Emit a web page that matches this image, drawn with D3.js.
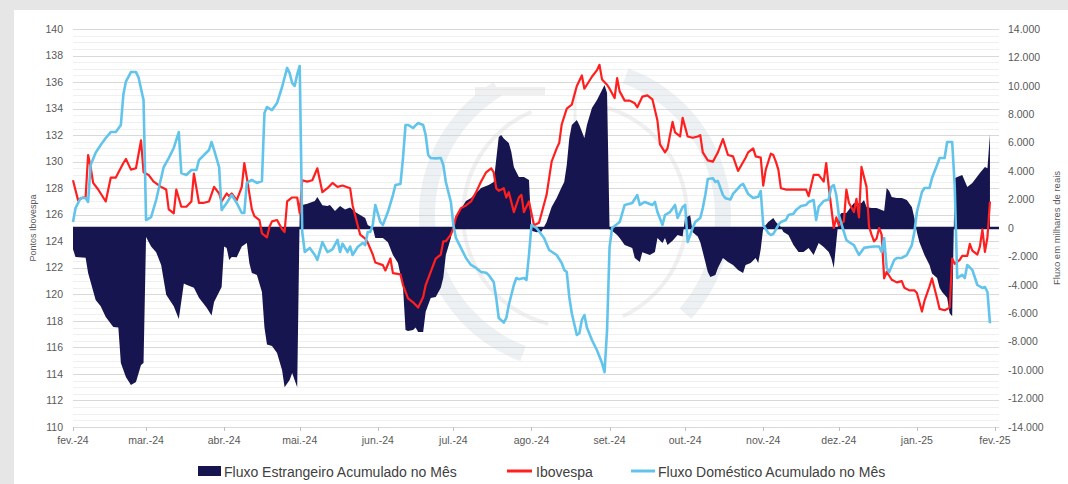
<!DOCTYPE html>
<html><head><meta charset="utf-8">
<script src="https://cdn.jsdelivr.net/npm/d3@7"></script>
<style>body{margin:0;background:#e6e6e6;overflow:hidden}svg{display:block}</style>
</head><body><svg id="c" width="1068" height="484"></svg>
<script>
const monthTicks = ["2024-02-01","2024-03-01","2024-04-01","2024-05-01","2024-06-01","2024-07-01","2024-08-01","2024-09-01","2024-10-01","2024-11-01","2024-12-01","2025-01-01","2025-02-01"];
const monthLabels = ["fev.-24","mar.-24","abr.-24","mai.-24","jun.-24","jul.-24","ago.-24","set.-24","out.-24","nov.-24","dez.-24","jan.-25","fev.-25"];
const leftTicks = [110,112,114,116,118,120,122,124,126,128,130,132,134,136,138,140];
const rightTicks = [-14000,-12000,-10000,-8000,-6000,-4000,-2000,0,2000,4000,6000,8000,10000,12000,14000];
const seriesNames = ["Fluxo Estrangeiro Acumulado no Mês","Ibovespa","Fluxo Doméstico Acumulado no Mês"];
const leftTitle = "Pontos Ibovespa";
const rightTitle = "Fluxo em milhares de reais";

const foreignFlow = [
["2024-02-01",-1500],["2024-02-02",-2040],["2024-02-06",-2100],["2024-02-07",-3170],["2024-02-10",-5070],["2024-02-12",-5500],["2024-02-14",-6260],["2024-02-17",-6970],["2024-02-19",-7000],["2024-02-20",-9500],["2024-02-22",-10480],["2024-02-24",-11050],["2024-02-26",-10830],["2024-02-28",-9640],["2024-02-29",-9500],
["2024-03-01",-630],["2024-03-03",-1300],["2024-03-05",-1700],["2024-03-07",-2600],["2024-03-09",-4700],["2024-03-12",-5500],["2024-03-14",-6400],["2024-03-16",-3900],["2024-03-17",-4000],["2024-03-20",-4200],["2024-03-22",-4900],["2024-03-25",-5600],["2024-03-27",-6150],["2024-03-28",-5200],["2024-03-31",-4150],
["2024-04-01",-1300],["2024-04-02",-1400],["2024-04-03",-2250],["2024-04-04",-2040],["2024-04-06",-2050],["2024-04-08",-1300],["2024-04-10",-1050],["2024-04-11",-2460],["2024-04-12",-3170],["2024-04-14",-3300],["2024-04-16",-4500],["2024-04-17",-7000],["2024-04-18",-8200],["2024-04-20",-8300],["2024-04-22",-8800],["2024-04-24",-10000],["2024-04-25",-11200],["2024-04-27",-10700],["2024-04-28",-10200],["2024-04-30",-11200],
["2024-05-01",1200],["2024-05-02",1620],["2024-05-04",1700],["2024-05-07",1900],["2024-05-08",2180],["2024-05-10",1600],["2024-05-12",1550],["2024-05-13",1620],["2024-05-15",1200],["2024-05-17",1550],["2024-05-19",1300],["2024-05-21",1450],["2024-05-23",1125],["2024-05-25",915],["2024-05-27",700],["2024-05-28",210],["2024-05-30",0],["2024-05-31",-700],
["2024-06-03",-700],["2024-06-05",-1000],["2024-06-07",-1900],["2024-06-09",-2460],["2024-06-11",-4150],["2024-06-12",-7175],["2024-06-13",-7250],["2024-06-15",-7175],["2024-06-16",-7000],["2024-06-17",-7320],["2024-06-19",-7320],["2024-06-20",-5900],["2024-06-22",-4925],["2024-06-24",-4850],["2024-06-26",-4200],["2024-06-27",-3500],["2024-06-28",-1900],["2024-06-30",-700],
["2024-07-01",200],["2024-07-03",1125],["2024-07-05",1620],["2024-07-06",1900],["2024-07-08",2110],["2024-07-10",2460],["2024-07-12",2810],["2024-07-15",3025],["2024-07-17",3235],["2024-07-19",6400],["2024-07-20",6540],["2024-07-21",6300],["2024-07-23",5980],["2024-07-24",5350],["2024-07-25",4300],["2024-07-27",3590],["2024-07-29",3590],["2024-07-31",3380],
["2024-08-01",-200],["2024-08-03",-300],["2024-08-05",-250],["2024-08-07",420],["2024-08-09",1480],["2024-08-10",1800],["2024-08-11",2110],["2024-08-13",2885],["2024-08-14",3235],["2024-08-15",4430],["2024-08-16",6300],["2024-08-17",7245],["2024-08-19",7600],["2024-08-20",7245],["2024-08-22",6330],["2024-08-23",7245],["2024-08-25",8440],["2024-08-27",9000],["2024-08-29",9700],["2024-08-30",10060],["2024-08-31",9500],
["2024-09-01",-100],["2024-09-02",-200],["2024-09-04",-500],["2024-09-05",-700],["2024-09-07",-1200],["2024-09-10",-1400],["2024-09-11",-2110],["2024-09-13",-2400],["2024-09-14",-1700],["2024-09-17",-1900],["2024-09-19",-1690],["2024-09-20",-700],["2024-09-22",-1055],["2024-09-23",-700],["2024-09-24",-1200],["2024-09-26",-900],["2024-09-28",-490],["2024-09-30",-600],
["2024-10-01",700],["2024-10-03",900],["2024-10-04",-300],["2024-10-06",-600],["2024-10-07",-1000],["2024-10-08",-1690],["2024-10-10",-3100],["2024-10-11",-3450],["2024-10-13",-3300],["2024-10-14",-2810],["2024-10-16",-2110],["2024-10-18",-2390],["2024-10-20",-2600],["2024-10-22",-2950],["2024-10-24",-3170],["2024-10-25",-2600],["2024-10-27",-2460],["2024-10-29",-2110],["2024-10-30",-2460],["2024-10-31",-1500],
["2024-11-01",0],["2024-11-03",420],["2024-11-05",700],["2024-11-06",420],["2024-11-08",70],["2024-11-09",-280],["2024-11-11",-490],["2024-11-13",-1200],["2024-11-15",-1690],["2024-11-17",-1690],["2024-11-19",-1400],["2024-11-21",-1900],["2024-11-23",-1055],["2024-11-25",-1340],["2024-11-27",-1690],["2024-11-28",-2110],["2024-11-29",-2810],["2024-11-30",-1000],
["2024-12-01",800],["2024-12-02",1055],["2024-12-04",1055],["2024-12-07",1760],["2024-12-08",1700],["2024-12-10",1760],["2024-12-11",1970],["2024-12-12",1480],["2024-12-14",1400],["2024-12-16",1400],["2024-12-18",1270],["2024-12-19",1200],["2024-12-20",2810],["2024-12-21",2600],["2024-12-22",2180],["2024-12-24",2110],["2024-12-26",2110],["2024-12-28",1970],["2024-12-30",1480],["2024-12-31",700],
["2025-01-01",-300],["2025-01-02",-1000],["2025-01-04",-1900],["2025-01-06",-2600],["2025-01-07",-3200],["2025-01-09",-3520],["2025-01-10",-4200],["2025-01-11",-4500],["2025-01-13",-4900],["2025-01-14",-6000],["2025-01-15",-6200],["2025-01-16",3500],["2025-01-17",3590],["2025-01-19",3730],["2025-01-21",2885],["2025-01-23",3165],["2025-01-26",3870],["2025-01-28",4290],["2025-01-29",4200],["2025-01-30",6600]
];

const ibovespa = [
["2024-02-01",128.6],["2024-02-03",127.1],["2024-02-05",127.3],["2024-02-06",127.3],["2024-02-07",130.5],["2024-02-08",129.6],["2024-02-09",128.4],["2024-02-11",127.9],["2024-02-14",127.0],["2024-02-16",128.8],["2024-02-18",128.8],["2024-02-21",129.9],["2024-02-22",130.2],["2024-02-24",129.4],["2024-02-26",129.5],["2024-02-28",131.6],["2024-02-29",129.2],
["2024-03-02",129.0],["2024-03-04",128.5],["2024-03-07",128.1],["2024-03-08",128.0],["2024-03-09",127.9],["2024-03-10",126.4],["2024-03-12",126.1],["2024-03-13",127.9],["2024-03-15",126.6],["2024-03-17",126.6],["2024-03-19",127.0],["2024-03-20",129.1],["2024-03-22",126.9],["2024-03-24",126.9],["2024-03-26",127.0],["2024-03-28",128.1],["2024-03-30",127.6],["2024-03-31",127.0],
["2024-04-02",127.6],["2024-04-03",127.4],["2024-04-04",127.6],["2024-04-06",127.1],["2024-04-08",128.1],["2024-04-09",129.9],["2024-04-10",128.8],["2024-04-12",126.4],["2024-04-13",125.9],["2024-04-15",125.6],["2024-04-16",124.6],["2024-04-18",124.3],["2024-04-19",125.1],["2024-04-20",125.5],["2024-04-22",125.6],["2024-04-24",124.9],["2024-04-25",124.7],["2024-04-26",127.0],["2024-04-28",127.3],["2024-04-30",127.3],
["2024-05-01",126.1],["2024-05-02",128.6],["2024-05-04",128.5],["2024-05-06",128.6],["2024-05-08",129.5],["2024-05-09",128.6],["2024-05-10",127.7],["2024-05-12",128.0],["2024-05-14",128.4],["2024-05-16",128.1],["2024-05-18",128.2],["2024-05-21",128.0],["2024-05-22",126.7],["2024-05-24",125.2],["2024-05-25",124.5],["2024-05-27",124.2],["2024-05-28",123.9],["2024-05-30",123.0],["2024-05-31",122.4],
["2024-06-03",122.2],["2024-06-04",121.8],["2024-06-06",122.7],["2024-06-07",121.6],["2024-06-10",121.5],["2024-06-11",120.7],["2024-06-13",119.7],["2024-06-15",119.4],["2024-06-17",119.0],["2024-06-19",119.8],["2024-06-20",120.7],["2024-06-22",121.7],["2024-06-24",122.7],["2024-06-26",123.0],["2024-06-27",124.0],["2024-06-28",124.0],["2024-06-30",124.5],
["2024-07-01",125.0],["2024-07-02",125.8],["2024-07-04",126.5],["2024-07-06",126.7],["2024-07-08",127.0],["2024-07-10",127.7],["2024-07-12",128.5],["2024-07-14",129.2],["2024-07-16",129.5],["2024-07-17",129.2],["2024-07-18",128.0],["2024-07-19",127.8],["2024-07-21",128.0],["2024-07-22",127.3],["2024-07-23",127.7],["2024-07-25",126.2],["2024-07-27",127.3],["2024-07-28",127.5],["2024-07-29",126.2],["2024-07-31",127.0],
["2024-08-02",125.2],["2024-08-04",125.4],["2024-08-07",127.5],["2024-08-09",130.0],["2024-08-11",131.0],["2024-08-12",131.4],["2024-08-13",132.8],["2024-08-15",134.0],["2024-08-17",134.3],["2024-08-18",135.0],["2024-08-19",135.7],["2024-08-21",136.5],["2024-08-22",135.5],["2024-08-23",135.8],["2024-08-25",136.4],["2024-08-27",136.9],["2024-08-28",137.3],["2024-08-29",136.2],["2024-08-31",135.8],
["2024-09-01",135.5],["2024-09-03",134.8],["2024-09-04",136.3],["2024-09-05",135.3],["2024-09-07",134.6],["2024-09-09",134.6],["2024-09-11",134.4],["2024-09-12",134.1],["2024-09-14",134.9],["2024-09-16",135.0],["2024-09-18",134.7],["2024-09-20",133.1],["2024-09-21",131.3],["2024-09-23",130.7],["2024-09-24",131.0],["2024-09-26",133.0],["2024-09-27",132.2],["2024-09-29",131.9],["2024-09-30",133.3],
["2024-10-02",131.9],["2024-10-04",131.8],["2024-10-06",131.9],["2024-10-07",132.0],["2024-10-08",130.7],["2024-10-10",130.1],["2024-10-12",130.0],["2024-10-14",130.7],["2024-10-16",131.7],["2024-10-18",130.5],["2024-10-20",130.4],["2024-10-22",129.3],["2024-10-25",130.3],["2024-10-26",130.7],["2024-10-28",131.0],["2024-10-29",130.4],["2024-10-31",130.3],
["2024-11-01",128.2],["2024-11-02",129.4],["2024-11-04",130.6],["2024-11-05",130.5],["2024-11-06",130.0],["2024-11-07",129.4],["2024-11-08",128.0],["2024-11-10",127.9],["2024-11-13",127.9],["2024-11-15",127.9],["2024-11-18",127.9],["2024-11-19",127.4],["2024-11-21",129.0],["2024-11-23",129.0],["2024-11-25",128.5],["2024-11-26",129.9],["2024-11-27",128.1],["2024-11-29",125.0],["2024-11-30",125.8],
["2024-12-01",125.2],["2024-12-03",125.5],["2024-12-04",127.9],["2024-12-05",126.9],["2024-12-07",126.2],["2024-12-08",127.2],["2024-12-09",125.8],["2024-12-10",129.6],["2024-12-12",128.1],["2024-12-13",125.1],["2024-12-14",124.5],["2024-12-15",124.0],["2024-12-16",124.2],["2024-12-17",125.0],["2024-12-18",124.5],["2024-12-19",121.2],["2024-12-20",121.7],["2024-12-22",121.1],["2024-12-24",120.9],["2024-12-26",121.0],["2024-12-27",120.5],["2024-12-29",120.3],["2024-12-31",120.3],
["2025-01-01",120.1],["2025-01-03",118.7],["2025-01-04",119.5],["2025-01-06",120.6],["2025-01-07",121.2],["2025-01-09",119.7],["2025-01-10",118.9],["2025-01-12",118.8],["2025-01-13",118.9],["2025-01-14",119.0],["2025-01-15",122.7],["2025-01-16",122.3],["2025-01-18",122.6],["2025-01-19",122.9],["2025-01-21",122.9],["2025-01-22",123.8],["2025-01-23",123.3],["2025-01-25",123.0],["2025-01-26",123.6],["2025-01-27",124.9],["2025-01-28",123.2],["2025-01-29",124.3],["2025-01-30",127.0]
];

const domesticFlow = [
["2024-02-01",420],["2024-02-02",1400],["2024-02-04",2110],["2024-02-06",2110],["2024-02-07",1830],["2024-02-08",4430],["2024-02-10",5300],["2024-02-12",5840],["2024-02-14",6330],["2024-02-16",6750],["2024-02-18",6750],["2024-02-20",7250],["2024-02-21",9400],["2024-02-22",10300],["2024-02-24",10970],["2024-02-26",10970],["2024-02-27",10600],["2024-02-28",9800],["2024-02-29",9000],
["2024-03-01",560],["2024-03-03",770],["2024-03-05",1970],["2024-03-08",4290],["2024-03-10",4920],["2024-03-12",5630],["2024-03-14",6750],["2024-03-15",3870],["2024-03-17",3730],["2024-03-19",4080],["2024-03-21",4080],["2024-03-22",4780],["2024-03-24",5135],["2024-03-26",5490],["2024-03-27",6050],["2024-03-28",5490],["2024-03-30",4290],["2024-03-31",1270],
["2024-04-02",1760],["2024-04-04",2320],["2024-04-06",1760],["2024-04-08",1055],["2024-04-09",1055],["2024-04-10",3170],["2024-04-12",3380],["2024-04-14",3170],["2024-04-16",3300],["2024-04-17",8090],["2024-04-18",8510],["2024-04-20",8300],["2024-04-22",8790],["2024-04-24",9920],["2024-04-26",11260],["2024-04-27",10900],["2024-04-28",10200],["2024-04-29",10000],["2024-04-30",10800],
["2024-05-01",11400],["2024-05-02",-280],["2024-05-03",-1690],["2024-05-05",-1400],["2024-05-07",-1900],["2024-05-08",-2250],["2024-05-10",-985],["2024-05-12",-1690],["2024-05-14",-1500],["2024-05-16",-840],["2024-05-17",-1690],["2024-05-18",-1100],["2024-05-20",-1690],["2024-05-21",-1300],["2024-05-22",-1900],["2024-05-24",-1340],["2024-05-26",-1055],["2024-05-27",-1200],["2024-05-28",-280],["2024-05-29",-280],["2024-05-30",210],["2024-05-31",1620],
["2024-06-02",420],["2024-06-03",210],["2024-06-05",1125],["2024-06-07",2320],["2024-06-08",3025],["2024-06-10",3100],["2024-06-11",4920],["2024-06-12",7250],["2024-06-13",7250],["2024-06-15",7035],["2024-06-17",7390],["2024-06-19",7250],["2024-06-20",6540],["2024-06-21",5135],["2024-06-22",4920],["2024-06-24",4900],["2024-06-26",4920],["2024-06-27",4430],["2024-06-28",3240],["2024-06-30",1830],
["2024-07-01",210],["2024-07-02",-700],["2024-07-04",-1400],["2024-07-06",-2110],["2024-07-08",-2600],["2024-07-10",-2810],["2024-07-12",-3100],["2024-07-14",-3150],["2024-07-15",-3300],["2024-07-17",-3800],["2024-07-18",-4920],["2024-07-19",-6330],["2024-07-21",-6650],["2024-07-22",-6330],["2024-07-23",-5420],["2024-07-25",-4010],["2024-07-26",-3520],["2024-07-27",-3600],["2024-07-29",-3520],["2024-07-30",-3660],["2024-07-31",-1900],
["2024-08-01",210],["2024-08-03",0],["2024-08-06",-700],["2024-08-08",-1550],["2024-08-11",-1900],["2024-08-13",-2460],["2024-08-14",-2950],["2024-08-15",-3100],["2024-08-16",-4850],["2024-08-17",-6000],["2024-08-19",-7530],["2024-08-20",-7400],["2024-08-21",-6470],["2024-08-22",-6120],["2024-08-23",-7000],["2024-08-25",-7880],["2024-08-27",-8600],["2024-08-29",-9500],["2024-08-30",-10150],["2024-08-31",-7180],
["2024-09-01",-1340],["2024-09-02",0],["2024-09-05",420],["2024-09-07",1620],["2024-09-10",1760],["2024-09-12",2320],["2024-09-13",1620],["2024-09-15",1830],["2024-09-18",1620],["2024-09-19",1830],["2024-09-20",1125],["2024-09-22",210],["2024-09-23",915],["2024-09-25",1125],["2024-09-27",1620],["2024-09-28",700],["2024-09-30",1480],
["2024-10-01",1620],["2024-10-02",-985],["2024-10-04",0],["2024-10-05",420],["2024-10-07",700],["2024-10-08",1400],["2024-10-09",2320],["2024-10-10",3450],["2024-10-12",3500],["2024-10-13",3240],["2024-10-14",3300],["2024-10-16",2320],["2024-10-17",2100],["2024-10-19",2000],["2024-10-20",2400],["2024-10-21",2600],["2024-10-23",3000],["2024-10-24",3100],["2024-10-26",2400],["2024-10-28",2110],["2024-10-30",2200],["2024-10-31",2600],
["2024-11-01",210],["2024-11-03",-350],["2024-11-04",-490],["2024-11-05",-420],["2024-11-07",210],["2024-11-08",420],["2024-11-10",560],["2024-11-11",915],["2024-11-13",1000],["2024-11-14",1270],["2024-11-16",1550],["2024-11-18",1620],["2024-11-19",1830],["2024-11-21",1970],["2024-11-22",560],["2024-11-23",1480],["2024-11-25",1900],["2024-11-27",2000],["2024-11-28",2885],["2024-11-29",3025],["2024-11-30",2320],
["2024-12-01",915],["2024-12-03",-280],["2024-12-04",-840],["2024-12-05",-985],["2024-12-07",-1200],["2024-12-09",-1900],["2024-12-11",-1400],["2024-12-13",-1340],["2024-12-15",-1300],["2024-12-17",-1300],["2024-12-18",-1690],["2024-12-19",-700],["2024-12-20",-2810],["2024-12-21",-3100],["2024-12-23",-2250],["2024-12-24",-2110],["2024-12-26",-2110],["2024-12-28",-1900],["2024-12-30",-1200],["2024-12-31",-280],
["2025-01-01",1125],["2025-01-03",2530],["2025-01-04",2810],["2025-01-06",2810],["2025-01-07",3520],["2025-01-09",4430],["2025-01-10",4920],["2025-01-12",4920],["2025-01-13",6050],["2025-01-15",6050],["2025-01-16",3000],["2025-01-17",-3520],["2025-01-19",-3300],["2025-01-20",-3520],["2025-01-21",-2600],["2025-01-23",-2950],["2025-01-25",-4010],["2025-01-27",-4220],["2025-01-28",-4150],["2025-01-29",-4500],["2025-01-30",-6700]
];

const colors = {navy:"#17154f", red:"#ff1f1f", blue:"#62c4ea", text:"#595959"};

const parse = d3.utcParse("%Y-%m-%d");
const toPts = arr => arr.map(d => ({date: parse(d[0]), v: d[1]}));
const fe = toPts(foreignFlow), ib = toPts(ibovespa), dom = toPts(domesticFlow);

const svg = d3.select("#c");
const W = 1068, H = 484;
const plot = {left:73, right:995, top:29, bottom:427, gridRight:999};

svg.append("rect").attr("x",0).attr("y",0).attr("width",W).attr("height",H).attr("fill","#e6e6e6");
svg.append("rect").attr("x",14).attr("y",10).attr("width",W-14).attr("height",H-10).attr("fill","#ffffff");

const x = d3.scaleUtc().domain([parse(monthTicks[0]), parse(monthTicks[monthTicks.length-1])]).range([plot.left, plot.right]);
const yL = d3.scaleLinear().domain([110,140]).range([plot.bottom, plot.top]);
const yR = d3.scaleLinear().domain([-14000,14000]).range([plot.bottom, plot.top]);

// minor grid
const minor = d3.range(110, 140.001, 0.5).filter(v => Math.abs(v - Math.round(v/2)*2) > 1e-6);
svg.append("g").selectAll("line").data(minor).join("line")
  .attr("x1",plot.left).attr("x2",plot.gridRight)
  .attr("y1",d=>Math.round(yL(d))+0.5).attr("y2",d=>Math.round(yL(d))+0.5)
  .attr("stroke","#f0f0f0").attr("stroke-width",1);
// major grid
svg.append("g").selectAll("line").data(leftTicks).join("line")
  .attr("x1",plot.left).attr("x2",plot.gridRight)
  .attr("y1",d=>Math.round(yL(d))+0.5).attr("y2",d=>Math.round(yL(d))+0.5)
  .attr("stroke","#d9d9d9").attr("stroke-width",1);

// faint watermark (partial arcs)
const wm = svg.append("g").attr("transform","translate(575,215)").attr("fill","none").attr("opacity",0.3);
const arcOuter = d3.arc().innerRadius(140).outerRadius(156);
const arcInner = d3.arc().innerRadius(110).outerRadius(114);
[[-2.6,-0.55],[0.35,2.3],[3.5,4.6]].forEach(a =>
  wm.append("path").attr("d",arcOuter({startAngle:a[0],endAngle:a[1]})).attr("fill","#c9d4dc"));
[[-2.9,-0.4],[0.2,2.7]].forEach(a =>
  wm.append("path").attr("d",arcInner({startAngle:a[0],endAngle:a[1]})).attr("fill","#cfcfcf"));
wm.append("rect").attr("x",-100).attr("y",-128).attr("width",70).attr("height",8).attr("fill","#cfcfcf");
wm.append("line").attr("x1",0).attr("x2",0).attr("y1",-125).attr("y2",-70).attr("stroke","#cfcfcf").attr("stroke-width",3);

// bottom axis ticks
svg.append("g").selectAll("line").data(monthTicks).join("line")
  .attr("x1",d=>Math.round(x(parse(d)))+0.5).attr("x2",d=>Math.round(x(parse(d)))+0.5)
  .attr("y1",plot.bottom).attr("y2",plot.bottom+4).attr("stroke","#bfbfbf");

// foreign flow area
const area = d3.area().x(d=>x(d.date)).y0(yR(0)).y1(d=>yR(d.v));
svg.append("path").datum(fe).attr("d",area).attr("fill",colors.navy);
svg.append("line").attr("x1",plot.left).attr("x2",plot.gridRight)
  .attr("y1",yR(0)).attr("y2",yR(0)).attr("stroke",colors.navy).attr("stroke-width",2.5);

// lines
const lineL = d3.line().x(d=>x(d.date)).y(d=>yL(d.v));
const lineR = d3.line().x(d=>x(d.date)).y(d=>yR(d.v));
svg.append("path").datum(ib).attr("d",lineL).attr("fill","none").attr("stroke",colors.red).attr("stroke-width",2.2).attr("stroke-linejoin","round");
svg.append("path").datum(dom).attr("d",lineR).attr("fill","none").attr("stroke",colors.blue).attr("stroke-width",2.6).attr("stroke-linejoin","round");

// tick labels
const font = "'Liberation Sans', Arial, sans-serif";
svg.append("g").selectAll("text").data(leftTicks).join("text")
  .attr("x",63).attr("y",d=>yL(d)).attr("dy","0.35em").attr("text-anchor","end")
  .attr("font-family",font).attr("font-size",10.5).attr("fill",colors.text).text(d=>d);
const fmtR = v => v === 0 ? "0" : (v<0?"-":"") + d3.format(",")(Math.abs(v)).replace(/,/g,".");
svg.append("g").selectAll("text").data(rightTicks).join("text")
  .attr("x",1008).attr("y",d=>yR(d)).attr("dy","0.35em").attr("text-anchor","start")
  .attr("font-family",font).attr("font-size",10.5).attr("fill",colors.text).text(fmtR);
svg.append("g").selectAll("text").data(monthTicks).join("text")
  .attr("x",d=>x(parse(d))).attr("y",444).attr("text-anchor","middle")
  .attr("font-family",font).attr("font-size",10.5).attr("fill",colors.text)
  .text((d,i)=>monthLabels[i]);

// axis titles
svg.append("text").attr("transform","translate(36,228) rotate(-90)").attr("text-anchor","middle")
  .attr("font-family",font).attr("font-size",9).attr("fill",colors.text).text(leftTitle);
svg.append("text").attr("transform","translate(1060,228) rotate(-90)").attr("text-anchor","middle")
  .attr("font-family",font).attr("font-size",9.5).attr("fill",colors.text).text(rightTitle);

// legend
const lg = svg.append("g").attr("font-family",font).attr("font-size",14).attr("fill","#404040");
lg.append("rect").attr("x",198).attr("y",466).attr("width",23).attr("height",10).attr("fill",colors.navy);
lg.append("text").attr("x",224).attr("y",477).text(seriesNames[0]);
lg.append("line").attr("x1",507).attr("x2",532).attr("y1",471).attr("y2",471).attr("stroke",colors.red).attr("stroke-width",3);
lg.append("text").attr("x",536).attr("y",477).text(seriesNames[1]);
lg.append("line").attr("x1",631).attr("x2",655).attr("y1",471).attr("y2",471).attr("stroke",colors.blue).attr("stroke-width",3);
lg.append("text").attr("x",658).attr("y",477).text(seriesNames[2]);
</script>
</body></html>
